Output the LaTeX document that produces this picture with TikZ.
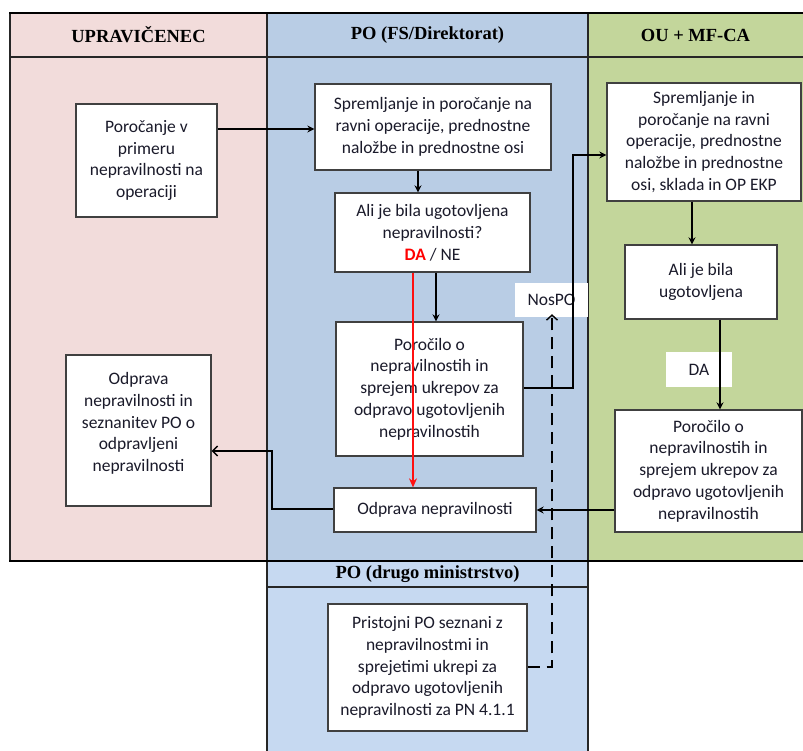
\documentclass[tikz,border=0pt]{standalone}
\usepackage{fontspec}
\setmainfont{Carlito}
\newfontfamily\hdrfont{Liberation Serif}
\usetikzlibrary{arrows.meta}
\definecolor{lanepink}{HTML}{F2DCDB}
\definecolor{laneblue}{HTML}{B9CDE5}
\definecolor{lanegreen}{HTML}{C3D69B}
\definecolor{laneblueb}{HTML}{C6D9F1}
\definecolor{boxline}{HTML}{404040}
\definecolor{txt}{HTML}{1A1A2A}
\definecolor{redline}{HTML}{FF1010}
\tikzset{
  box/.style={draw=boxline, line width=1.3pt, fill=white, align=center, inner sep=0pt,
    text=txt, font=\fontsize{17.5}{21.8}\selectfont},
  tag/.style={fill=white, inner sep=0pt, text=txt, font=\fontsize{17.5}{20}\selectfont},
  lanehead/.style={font=\hdrfont\bfseries\fontsize{18.5}{20}\selectfont, text=black},
  grid/.style={line width=1.2pt, draw=black!85},
  conn/.style={line width=1.6pt, draw=black, -{Stealth[length=7pt,width=7pt]}},
  connopen/.style={line width=1.6pt, draw=black, -{Straight Barb[length=5pt,width=10pt,line width=1.4pt]}},
  redconn/.style={line width=1.2pt, draw=redline, -{Stealth[length=9pt,width=8pt]}},
  dashconn/.style={line width=1.6pt, draw=black, dash pattern=on 12pt off 7pt,
    -{Straight Barb[length=5pt,width=11pt,line width=1.4pt]}}
}
\begin{document}
\begin{tikzpicture}[x=1pt,y=-1pt]
\useasboundingbox (0,0) rectangle (803,751);
% lane backgrounds
\fill[lanepink] (10,13) rectangle (267,561);
\fill[laneblue] (267,13) rectangle (588,561);
\fill[lanegreen] (588,13) rectangle (803,561);
\fill[laneblueb] (267,561) rectangle (588,751);
% lane grid
\draw[grid] (10,57) -- (803,57);
\draw[grid] (10,13) -- (10,561);
\draw[grid] (267,13) -- (267,751);
\draw[grid] (588,13) -- (588,751);
\draw[grid] (267,587) -- (588,587);
\draw[line width=2.4pt] (9,13) -- (803,13);
\draw[line width=2.2pt] (9,561) -- (803,561);
% lane headers
\node[lanehead] (lh1) at (138.5,35) {UPRAVIČENEC};
\node[lanehead] (lh2) at (427.5,35) {PO (FS/Direktorat)};
\node[lanehead] (lh3) at (695.5,35) {OU + MF-CA};
\node[lanehead] (lh4) at (427.5,574) {PO (drugo ministrstvo)};
% boxes
\node[box, minimum width=141pt, minimum height=113pt] (b1) at (146.5,160.5)
  {Poročanje v\\primeru\\nepravilnosti na\\operaciji};
\node[box, minimum width=145pt, minimum height=151pt] (b2) at (138.5,430.5)
  {Odprava\\nepravilnosti in\\seznanitev PO o\\odpravljeni\\nepravilnosti\\[-5pt]\mbox{}};
\node[box, minimum width=236pt, minimum height=86pt] (b3) at (433,127)
  {Spremljanje in poročanje na\\ravni operacije, prednostne\\naložbe in prednostne osi};
\node[box, minimum width=195pt, minimum height=79pt] (b4) at (432.5,232.5)
  {Ali je bila ugotovljena\\nepravilnosti?\\{\color{red}\bfseries DA} / NE};
\node[box, minimum width=187pt, minimum height=134pt] (b5) at (429.5,389)
  {Poročilo o\\nepravilnostih in\\sprejem ukrepov za\\odpravo ugotovljenih\\nepravilnostih};
\node[box, minimum width=202pt, minimum height=44pt] (b6) at (435,510)
  {Odprava nepravilnosti};
\node[box, minimum width=194pt, minimum height=118pt] (b7) at (704,142)
  {Spremljanje in\\poročanje na ravni\\operacije, prednostne\\naložbe in prednostne\\osi, sklada in OP EKP};
\node[box, minimum width=152pt, minimum height=74pt] (b8) at (701,282)
  {Ali je bila\\ugotovljena};
\node[box, minimum width=187pt, minimum height=122pt] (b9) at (708.5,471)
  {Poročilo o\\nepravilnostih in\\sprejem ukrepov za\\odpravo ugotovljenih\\nepravilnostih};
\node[box, minimum width=199pt, minimum height=127pt] (b10) at (427.5,667.5)
  {Pristojni PO seznani z\\nepravilnostmi in\\sprejetimi ukrepi za\\odpravo ugotovljenih\\nepravilnosti za PN 4.1.1};
\node[tag, minimum width=73pt, minimum height=34pt] (nos) at (551.5,300) {NosPO};
% helper coordinates
\coordinate (h129) at (0,129);
\coordinate (v418) at (418,0);
\coordinate (v436) at (436,0);
\coordinate (v413) at (413,0);
\coordinate (k1) at (573,388);
\coordinate (k2) at (573,155);
\coordinate (v692) at (692,0);
\coordinate (v720) at (720,0);
\coordinate (h510) at (0,510);
\coordinate (k3) at (272,509);
\coordinate (k4) at (272,451);
\coordinate (k5) at (552,667);
% connectors
\draw[conn] (b1.east |- h129) -- (b3.west |- h129);
\draw[conn] (b3.south -| v418) -- (b4.north -| v418);
\draw[conn] (b4.south -| v436) -- (b5.north -| v436);
\draw[conn] (b5.east |- k1) -- (k1) -- (k2) -- (b7.west |- k2);
\draw[conn] (b7.south -| v692) -- (b8.north -| v692);
\node[tag, minimum width=66pt, minimum height=35pt] (da) at (699,369.5) {DA};
\draw[conn] (b8.south -| v720) -- (b9.north -| v720);
\draw[conn] (b9.west |- h510) -- (b6.east |- h510);
\draw[connopen] (b6.west |- k3) -- (k3) -- (k4) -- (b2.east |- k4);
\draw[dashconn, shorten >=-3pt] (b10.east |- k5) -- (k5) -- (nos.south -| k5);
\draw[redconn] (b4.south -| v413) -- (b6.north -| v413);
\end{tikzpicture}
\end{document}
